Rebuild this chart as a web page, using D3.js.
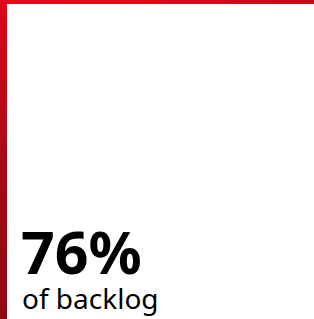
<!DOCTYPE html>
<html>
<head>
<meta charset="utf-8">
<script src="https://cdn.jsdelivr.net/npm/d3@7"></script>
<style>
  html, body { margin: 0; padding: 0; background: #fff; }
</style>
</head>
<body>
<div id="chart"></div>
<script>
// Data
const values = [76]
const labels = ['of backlog']
const suffixes = ['%']

function draw() {
  const dimensions = { width: 314, height: 319, top: 4, left: 7 }

  const svg = d3.select('#chart')
    .append('svg')
    .attr('width', dimensions.width)
    .attr('height', dimensions.height)
    .style('display', 'block')

  const defs = svg.append('defs')
  // top band gradient - bright red to darker red
  const gTop = defs.append('linearGradient').attr('id', 'gTop')
    .attr('x1', 0).attr('x2', 1).attr('y1', 0).attr('y2', 0)
  gTop.append('stop').attr('offset', '0%').attr('stop-color', '#e0081a')
  gTop.append('stop').attr('offset', '35%').attr('stop-color', '#e20a17')
  gTop.append('stop').attr('offset', '100%').attr('stop-color', '#c20a18')
  // left band gradient - going down gets darker
  const gLeft = defs.append('linearGradient').attr('id', 'gLeft')
    .attr('x1', 0).attr('x2', 0).attr('y1', 0).attr('y2', 1)
  gLeft.append('stop').attr('offset', '0%').attr('stop-color', '#dd0816')
  gLeft.append('stop').attr('offset', '50%').attr('stop-color', '#a80a17')
  gLeft.append('stop').attr('offset', '100%').attr('stop-color', '#8e0a14')

  svg.append('rect')
    .attr('x', 0).attr('y', 0)
    .attr('width', dimensions.width).attr('height', dimensions.top)
    .attr('fill', 'url(#gTop)')
  svg.append('rect')
    .attr('x', 0).attr('y', 0)
    .attr('width', dimensions.left).attr('height', dimensions.height)
    .attr('fill', 'url(#gLeft)')

  // big number
  svg.selectAll('text.value')
    .data(values)
    .join('text')
    .attr('class', 'value')
    .attr('x', 21)
    .attr('y', 274)
    .attr('font-family', 'Noto Sans, sans-serif')
    .attr('font-weight', 'bold')
    .attr('font-size', 59)
    .attr('fill', '#000')
    .text((d, i) => `${d}${suffixes[i]}`)

  svg.selectAll('text.label')
    .data(labels)
    .join('text')
    .attr('class', 'label')
    .attr('x', 22)
    .attr('y', 309)
    .attr('font-family', 'Noto Sans, sans-serif')
    .attr('font-size', 28)
    .attr('fill', '#000')
    .text(d => d)
}

draw()
</script>
</body>
</html>
